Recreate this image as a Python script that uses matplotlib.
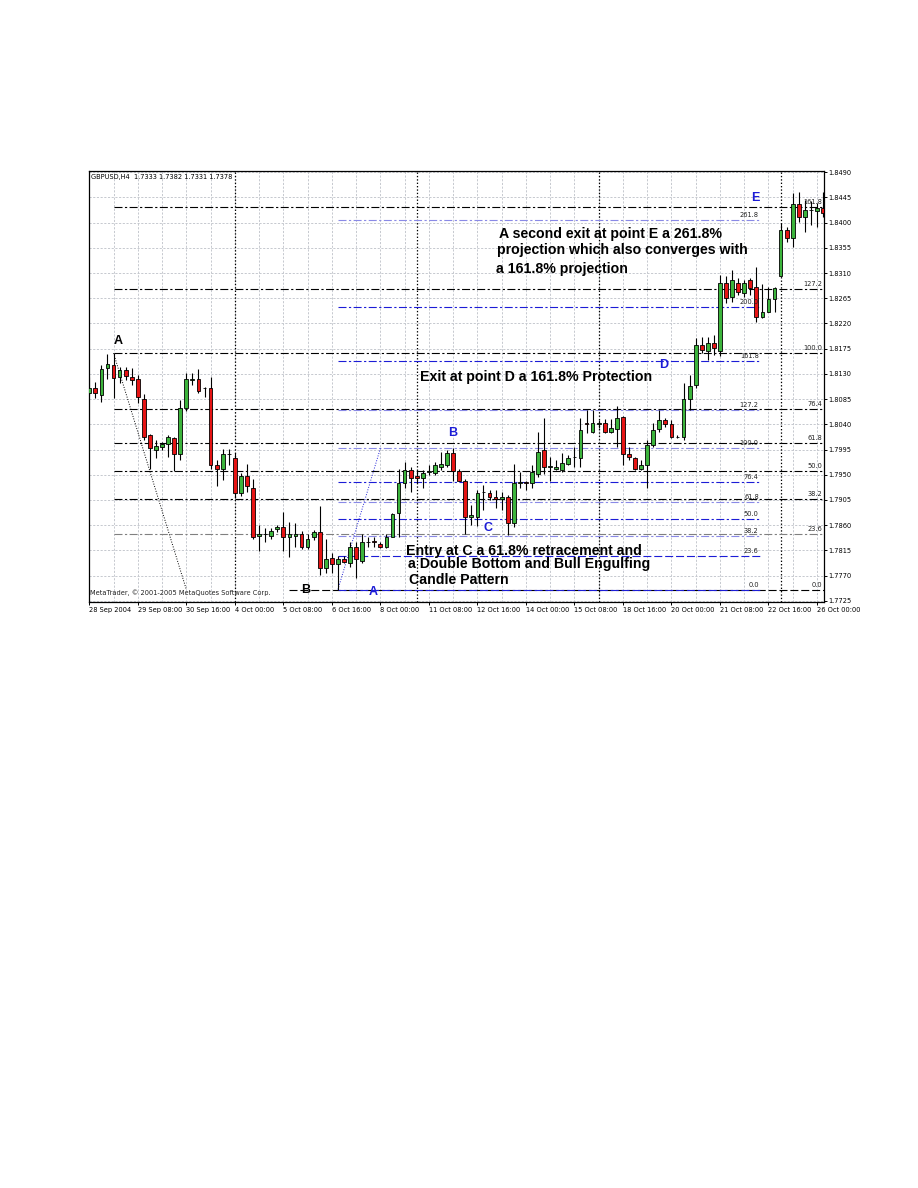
import matplotlib
matplotlib.use("Agg")
import matplotlib.pyplot as plt
import numpy as np

# ---- GBPUSD H4 bars, 28 Sep 2004 00:00 onwards ----
opens = [1.8096, 1.8105, 1.8092, 1.8140, 1.8146, 1.8124, 1.8137, 1.8124, 1.8120, 1.8086,
         1.8021, 1.7995, 1.8000, 1.8005, 1.8015, 1.7987, 1.8070, 1.8119, 1.8120, 1.8104,
         1.8104, 1.7967, 1.7960, 1.7987, 1.7979, 1.7918, 1.7948, 1.7926, 1.7841, 1.7844,
         1.7841, 1.7853, 1.7856, 1.7839, 1.7841, 1.7844, 1.7821, 1.7838, 1.7847, 1.7783,
         1.7801, 1.7791, 1.7799, 1.7793, 1.7821, 1.7796, 1.7829, 1.7832, 1.7826, 1.7821,
         1.7839, 1.7881, 1.7935, 1.7958, 1.7948, 1.7945, 1.7955, 1.7953, 1.7964, 1.7967,
         1.7988, 1.7957, 1.7939, 1.7874, 1.7875, 1.7919, 1.7917, 1.7911, 1.7906, 1.7910,
         1.7863, 1.7936, 1.7937, 1.7936, 1.7951, 1.7995, 1.7964, 1.7960, 1.7958, 1.7970,
         1.7981, 1.7979, 1.8043, 1.8026, 1.8040, 1.8042, 1.8027, 1.8031, 1.8053, 1.7987,
         1.7979, 1.7960, 1.7967, 1.8003, 1.8031, 1.8048, 1.8040, 1.8017, 1.8017, 1.8086,
         1.8110, 1.8182, 1.8170, 1.8185, 1.8171, 1.8293, 1.8268, 1.8293, 1.8274, 1.8298,
         1.8286, 1.8232, 1.8241, 1.8263, 1.8305, 1.8387, 1.8372, 1.8433, 1.8410, 1.8422,
         1.8420, 1.8426]
highs = [1.8125, 1.8116, 1.8146, 1.8166, 1.8167, 1.8143, 1.8143, 1.8140, 1.8128, 1.8095,
         1.8023, 1.8012, 1.8009, 1.8021, 1.8018, 1.8083, 1.8131, 1.8131, 1.8138, 1.8107,
         1.8125, 1.7976, 1.7996, 1.7996, 1.7988, 1.7953, 1.7969, 1.7942, 1.7860, 1.7854,
         1.7854, 1.7860, 1.7884, 1.7866, 1.7863, 1.7849, 1.7845, 1.7851, 1.7894, 1.7836,
         1.7810, 1.7805, 1.7804, 1.7830, 1.7830, 1.7845, 1.7839, 1.7839, 1.7830, 1.7845,
         1.7881, 1.7960, 1.7973, 1.7964, 1.7958, 1.7958, 1.7967, 1.7973, 1.7991, 1.7994,
         1.7997, 1.7961, 1.7942, 1.7896, 1.7923, 1.7932, 1.7923, 1.7923, 1.7920, 1.7914,
         1.7970, 1.7955, 1.7938, 1.7967, 1.8027, 1.8051, 1.7982, 1.7976, 1.7988, 1.7985,
         1.8000, 1.8051, 1.8066, 1.8066, 1.8048, 1.8049, 1.8049, 1.8073, 1.8054, 1.8000,
         1.7982, 1.7976, 1.8012, 1.8043, 1.8066, 1.8051, 1.8048, 1.8021, 1.8113, 1.8128,
         1.8194, 1.8196, 1.8196, 1.8200, 1.8307, 1.8304, 1.8316, 1.8301, 1.8298, 1.8301,
         1.8321, 1.8290, 1.8285, 1.8286, 1.8399, 1.8393, 1.8453, 1.8455, 1.8441, 1.8438,
         1.8435, 1.8455]
lows = [1.8092, 1.8087, 1.8080, 1.8120, 1.8087, 1.8113, 1.8119, 1.8110, 1.8078, 1.8012,
        1.7961, 1.7979, 1.7994, 1.7982, 1.7957, 1.7976, 1.8063, 1.8110, 1.8096, 1.8089,
        1.7961, 1.7929, 1.7941, 1.7967, 1.7908, 1.7912, 1.7920, 1.7835, 1.7814, 1.7829,
        1.7835, 1.7848, 1.7814, 1.7803, 1.7821, 1.7817, 1.7817, 1.7833, 1.7771, 1.7774,
        1.7774, 1.7745, 1.7792, 1.7786, 1.7765, 1.7792, 1.7821, 1.7821, 1.7819, 1.7819,
        1.7839, 1.7839, 1.7926, 1.7920, 1.7935, 1.7927, 1.7949, 1.7949, 1.7958, 1.7964,
        1.7938, 1.7938, 1.7845, 1.7860, 1.7858, 1.7887, 1.7905, 1.7890, 1.7887, 1.7842,
        1.7857, 1.7926, 1.7923, 1.7926, 1.7946, 1.7951, 1.7938, 1.7958, 1.7954, 1.7967,
        1.7964, 1.7964, 1.8024, 1.8024, 1.8033, 1.8024, 1.8024, 1.7999, 1.7967, 1.7976,
        1.7958, 1.7958, 1.7926, 1.8000, 1.8027, 1.8036, 1.8015, 1.8015, 1.8012, 1.8066,
        1.8104, 1.8167, 1.8155, 1.8164, 1.8162, 1.8256, 1.8259, 1.8271, 1.8268, 1.8271,
        1.8223, 1.8229, 1.8241, 1.8241, 1.8304, 1.8366, 1.8357, 1.8402, 1.8384, 1.8396,
        1.8393, 1.8411]
closes = [1.8105, 1.8096, 1.8138, 1.8147, 1.8122, 1.8137, 1.8127, 1.8119, 1.8088, 1.8018,
          1.7997, 1.8001, 1.8005, 1.8017, 1.7987, 1.8070, 1.8120, 1.8121, 1.8100, 1.8104,
          1.7967, 1.7960, 1.7987, 1.7987, 1.7917, 1.7948, 1.7929, 1.7839, 1.7844, 1.7844,
          1.7850, 1.7857, 1.7839, 1.7844, 1.7845, 1.7821, 1.7836, 1.7847, 1.7783, 1.7799,
          1.7791, 1.7799, 1.7794, 1.7821, 1.7799, 1.7829, 1.7830, 1.7829, 1.7821, 1.7838,
          1.7880, 1.7935, 1.7958, 1.7945, 1.7944, 1.7953, 1.7956, 1.7967, 1.7969, 1.7988,
          1.7957, 1.7939, 1.7875, 1.7878, 1.7917, 1.7920, 1.7910, 1.7906, 1.7911, 1.7863,
          1.7936, 1.7937, 1.7936, 1.7955, 1.7991, 1.7964, 1.7965, 1.7964, 1.7971, 1.7979,
          1.7982, 1.8030, 1.8040, 1.8042, 1.8043, 1.8027, 1.8033, 1.8051, 1.7987, 1.7981,
          1.7960, 1.7967, 1.8003, 1.8029, 1.8048, 1.8041, 1.8017, 1.8018, 1.8085, 1.8108,
          1.8182, 1.8173, 1.8186, 1.8176, 1.8293, 1.8265, 1.8298, 1.8277, 1.8292, 1.8283,
          1.8232, 1.8241, 1.8263, 1.8283, 1.8387, 1.8372, 1.8433, 1.8410, 1.8423, 1.8423,
          1.8426, 1.8417]

date_labels = ["28 Sep 2004", "29 Sep 08:00", "30 Sep 16:00", "4 Oct 00:00", "5 Oct 08:00",
               "6 Oct 16:00", "8 Oct 00:00", "11 Oct 08:00", "12 Oct 16:00", "14 Oct 00:00",
               "15 Oct 08:00", "18 Oct 16:00", "20 Oct 00:00", "21 Oct 08:00", "22 Oct 16:00",
               "26 Oct 00:00"]
bars_per_label = 8
week_start_bars = [24, 54, 84, 114]
price_ticks = [1.7725, 1.7770, 1.7815, 1.7860, 1.7905, 1.7950, 1.7995, 1.8040, 1.8085,
               1.8130, 1.8175, 1.8220, 1.8265, 1.8310, 1.8355, 1.8400, 1.8445, 1.8490]

# Fibonacci A -> B (black): swing high at bar 4, swing low reached at bar 16 anchor
fib1_high, fib1_low = 1.8167, 1.7745
fib1_levels = [0.0, 23.6, 38.2, 50.0, 61.8, 76.4, 100.0, 127.2, 161.8]
# Fibonacci projection (blue): low at bar 41 up to the bar-48 anchor
fib2_low, fib2_high = 1.7745, 1.7997
fib2_levels = [0.0, 23.6, 38.2, 50.0, 61.8, 76.4, 100.0, 127.2, 161.8, 200.0, 261.8]

header = "GBPUSD,H4  1.7333 1.7382 1.7331 1.7378"
copyright_text = "MetaTrader, \u00a9 2001-2005 MetaQuotes Software Corp."

# ---- figure ----
W, H = 918, 1188
fig = plt.figure(figsize=(W / 100, H / 100), dpi=100)
fig.patch.set_facecolor("white")
ax_l, ax_r, ax_t, ax_b = 88.5, 824.0, 171.0, 602.0
ax = fig.add_axes([ax_l / W, 1 - ax_b / H, (ax_r - ax_l) / W, (ax_b - ax_t) / H])
ax.set_xlim(-0.13, 121.16)
ax.set_ylim(1.77227, 1.84923)

n = len(opens)
x = np.arange(n)
o = np.array(opens); h = np.array(highs); l = np.array(lows); c = np.array(closes)

# grid
for gx in range(0, n, bars_per_label // 2):
    ax.axvline(gx, color="#c6c9cf", lw=0.7, dashes=(2.2, 1.6), zorder=0)
for gy in price_ticks:
    ax.axhline(gy, color="#c6c9cf", lw=0.7, dashes=(2.2, 1.6), zorder=0)

# weekly separators
for wb in week_start_bars:
    ax.axvline(wb, color="black", lw=0.9, dashes=(1.1, 1.6), zorder=1)

# black Fibonacci levels
rng1 = fib1_high - fib1_low
for lev in fib1_levels:
    y = fib1_low + lev / 100.0 * rng1
    if lev == 0.0:
        ax.plot([33, 121.16], [y, y], color="black", lw=0.8, dashes=(7.2, 2.6), zorder=2)
    else:
        col = "#808080" if lev == 23.6 else "black"
        ax.plot([4, 121.16], [y, y], color=col, lw=0.8, dashes=(7.2, 2.2, 2.0, 2.2), zorder=2)
    lab = f"{lev:.1f}"
    ax.text(120.85, y + 0.00035, lab, ha="right", va="bottom", fontsize=4.8,
            color="#222222", zorder=7)
ax.plot([4, 16], [fib1_high, fib1_low], color="black", lw=0.7, dashes=(1.0, 1.6), zorder=2)

# blue Fibonacci projection
rng2 = fib2_high - fib2_low
light_blue_levels = (38.2, 61.8, 100.0, 127.2, 261.8)
for lev in fib2_levels:
    y = fib2_low + lev / 100.0 * rng2
    col = "#8a8ae6" if lev in light_blue_levels else "#1c1cd6"
    if lev in (0.0, 23.6):
        ax.plot([41, 110.6], [y, y], color=col, lw=0.8, dashes=(7.2, 2.6), zorder=2)
    else:
        ax.plot([41, 110.6], [y, y], color=col, lw=0.8, dashes=(7.2, 2.2, 2.0, 2.2), zorder=2)
    ax.text(110.4, y + 0.00035, f"{lev:.1f}", ha="right", va="bottom", fontsize=4.8,
            color="#222222", zorder=7)
ax.plot([41, 48], [fib2_low, fib2_high], color="#2424d8", lw=0.7, dashes=(1.0, 1.6), zorder=2)

# candles
green, red = "#3cb43c", "#e61414"
ax.vlines(x, l, h, color="black", lw=0.8, zorder=3)
body = np.maximum(np.abs(c - o), 0.00004)
ax.bar(x, body, bottom=np.minimum(o, c), width=0.62,
       color=np.where(c >= o, green, red), edgecolor="black", linewidth=0.6, zorder=4)

# axes styling
for s in ax.spines.values():
    s.set_color("black"); s.set_linewidth(0.9)
ax.set_xticks(list(range(0, n, bars_per_label)))
ax.set_xticklabels(date_labels, ha="left", fontsize=4.8)
ax.set_yticks(price_ticks)
ax.set_yticklabels([f"{p:.4f}" for p in price_ticks], fontsize=4.8)
ax.yaxis.tick_right()
ax.tick_params(axis="both", length=2.2, width=0.7, color="black", pad=1.2)
ax.tick_params(axis="x", pad=1.5)

# chart captions
ax.text(0.004, 0.985, header, transform=ax.transAxes, fontsize=4.8, ha="left", va="center")
ax.text(0.002, 0.021, copyright_text, transform=ax.transAxes, fontsize=4.8, ha="left",
        va="center", color="#222222")

# point markers
bold = dict(family="Liberation Sans", fontweight="bold", zorder=8)
ax.text(4.75, 1.8189, "A", color="black", fontsize=9, ha="center", va="center", **bold)
ax.text(35.7, 1.7745, "B", color="black", fontsize=9, ha="center", va="center", **bold)
blue = "#1c1cd6"
ax.text(46.8, 1.7741, "A", color=blue, fontsize=9, ha="center", va="center", **bold)
ax.text(59.9, 1.8025, "B", color=blue, fontsize=9, ha="center", va="center", **bold)
ax.text(65.8, 1.7855, "C", color=blue, fontsize=9, ha="center", va="center", **bold)
ax.text(94.8, 1.8145, "D", color=blue, fontsize=9, ha="center", va="center", **bold)
ax.text(109.8, 1.8444, "E", color=blue, fontsize=9, ha="center", va="center", **bold)

# commentary
note = dict(family="Liberation Sans", fontweight="bold", fontsize=10.2, color="black",
            ha="left", va="center", zorder=8)
ax.text(67.6, 1.8380, "A second exit at point E a 261.8%", **note)
ax.text(67.2, 1.8351, "projection which also converges with", **note)
ax.text(67.1, 1.8317, "a 161.8% projection", **note)
ax.text(54.6, 1.8125, "Exit at point D a 161.8% Protection", **note)
ax.text(52.2, 1.7813, "Entry at C a 61.8% retracement and", **note)
ax.text(52.6, 1.7790, "a Double Bottom and Bull Engulfing", **note)
ax.text(52.7, 1.7762, "Candle Pattern", **note)

fig.savefig("out.png", dpi=100, facecolor="white")
